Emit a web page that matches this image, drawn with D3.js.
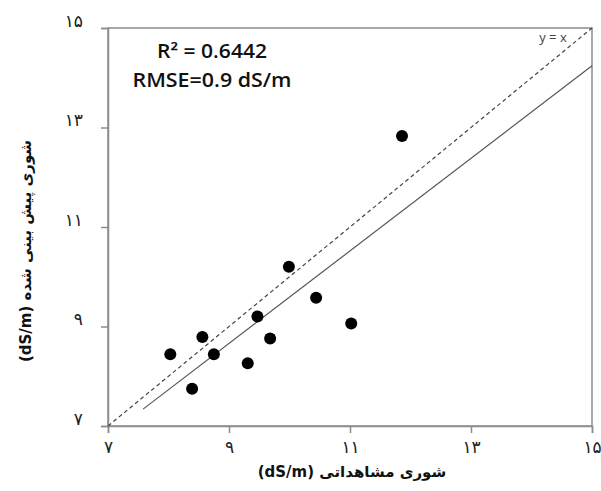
<!DOCTYPE html>
<html><head><meta charset="utf-8">
<script src="https://cdn.jsdelivr.net/npm/d3@7"></script>
<style>body{margin:0;background:#fff;} svg{display:block;}</style>
</head><body>
<script>
// Data
const observed  = [8.03, 8.39, 8.56, 8.75, 9.31, 9.47, 9.68, 9.99, 10.44, 11.02, 11.86];
const predicted = [8.44, 7.75, 8.79, 8.44, 8.26, 9.20, 8.76, 10.20, 9.58, 9.06, 12.83];
const tickValues = [7, 9, 11, 13, 15];
const tickLabels = ["۷", "۹", "۱۱", "۱۳", "۱۵"];
const trendRange = [7.58, 15];
const trendSlope = 0.93;
const trendIntercept = 0.29;
const statsText = ["R² = 0.6442", "RMSE=0.9 dS/m"];
const xTitle = "شوری مشاهداتی (dS/m)";
const yTitle = "شوری پیش بینی شده (dS/m)";

const W = 601, H = 491;
const m = {left: 108, right: 9, top: 28, bottom: 65};
const svg = d3.select("body").append("svg").attr("width", W).attr("height", H);

const x = d3.scaleLinear().domain([7, 15]).range([m.left, W - m.right]);
const y = d3.scaleLinear().domain([7, 15]).range([H - m.bottom, m.top]);
const axisColor = "#8c8c8c";

// frame (top/right)
svg.append("rect").attr("x", x(7)).attr("y", y(15))
  .attr("width", x(15) - x(7)).attr("height", y(7) - y(15))
  .attr("fill", "none").attr("stroke", axisColor).attr("stroke-width", 1.5);

const gx = svg.append("g").attr("transform", `translate(0,${y(7)})`)
  .call(d3.axisBottom(x).tickValues(tickValues).tickSize(7).tickFormat((d, i) => tickLabels[i]));
const gy = svg.append("g").attr("transform", `translate(${x(7)},0)`)
  .call(d3.axisLeft(y).tickValues(tickValues).tickSize(7).tickFormat((d, i) => tickLabels[i]));
[gx, gy].forEach(g => {
  g.select(".domain").attr("stroke", axisColor).attr("stroke-width", 1.5);
  g.selectAll(".tick line").attr("stroke", axisColor).attr("stroke-width", 1.5);
  g.selectAll("text").attr("font-family", "'DejaVu Sans', sans-serif").attr("font-size", 17).attr("fill", "#222");
});
gx.selectAll("text").attr("dy", "1.0em");
gy.selectAll("text").attr("x", -25).attr("dy", "-0.1em");

// y = x dashed line
svg.append("line")
  .attr("x1", x(7)).attr("y1", y(7)).attr("x2", x(15)).attr("y2", y(15))
  .attr("stroke", "#444").attr("stroke-width", 1.2).attr("stroke-dasharray", "4,3");

// trend line
svg.append("line")
  .attr("x1", x(trendRange[0])).attr("y1", y(trendSlope * trendRange[0] + trendIntercept))
  .attr("x2", x(trendRange[1])).attr("y2", y(trendSlope * trendRange[1] + trendIntercept))
  .attr("stroke", "#555").attr("stroke-width", 1.2);

// points
svg.selectAll("circle.pt").data(observed).enter().append("circle")
  .attr("class", "pt")
  .attr("cx", d => x(d)).attr("cy", (d, i) => y(predicted[i]))
  .attr("r", 6).attr("fill", "#000");

// y = x label
svg.append("text").attr("x", 553).attr("y", 42).attr("text-anchor", "middle")
  .attr("font-family", "'Open Sans', sans-serif").attr("font-size", 13).attr("fill", "#444").text("y = x");

// stats
svg.append("text").attr("x", 212).attr("y", 58).attr("text-anchor", "middle")
  .attr("font-family", "'Open Sans', sans-serif").attr("font-size", 19).attr("font-weight", 600)
  .attr("fill", "#111").attr("textLength", 110).attr("lengthAdjust", "spacingAndGlyphs").text(statsText[0]);
svg.append("text").attr("x", 212).attr("y", 87).attr("text-anchor", "middle")
  .attr("font-family", "'Open Sans', sans-serif").attr("font-size", 19).attr("font-weight", 600)
  .attr("fill", "#111").attr("textLength", 159).attr("lengthAdjust", "spacingAndGlyphs").text(statsText[1]);

// axis titles
svg.append("text").attr("x", 352).attr("y", 477).attr("text-anchor", "middle").attr("direction", "rtl")
  .attr("font-family", "'DejaVu Sans', sans-serif").attr("font-size", 15).attr("font-weight", "bold")
  .attr("fill", "#111").text(xTitle);
svg.append("text").attr("transform", "translate(31,251) rotate(-90)").attr("text-anchor", "middle").attr("direction", "rtl")
  .attr("font-family", "'DejaVu Sans', sans-serif").attr("font-size", 15).attr("font-weight", "bold")
  .attr("fill", "#111").text(yTitle);
</script>
</body></html>
